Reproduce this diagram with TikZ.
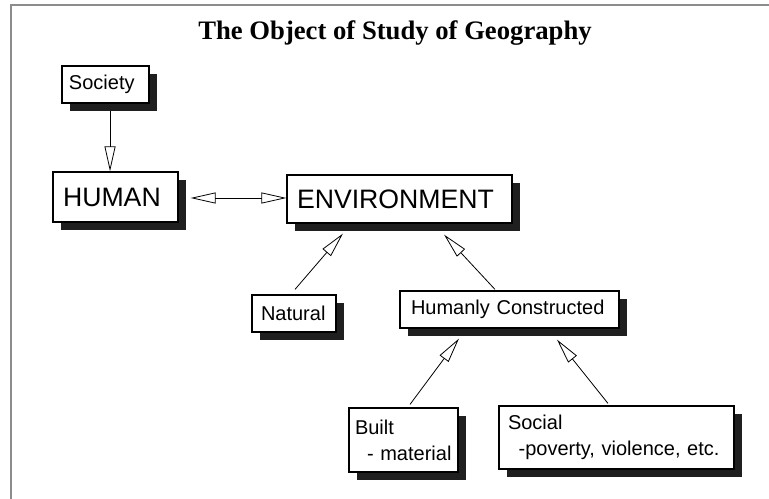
\documentclass[tikz,border=0pt]{standalone}
\usepackage{fontspec}
\setmainfont{Liberation Sans}
\newfontfamily\titlefont{Liberation Serif}
\usetikzlibrary{arrows.meta}
\usetikzlibrary{shadows}

\begin{document}
\begin{tikzpicture}[x=0.75pt, y=-0.75pt,
        box/.style={draw, fill=white, line width=0.9pt, align=left, inner ysep=0pt,
            drop shadow={shadow xshift=6pt, shadow yshift=-6pt, fill=shadowgray, opacity=1}},
        smallbox/.style={box, font=\fontsize{15}{19.5}\selectfont},
        bigbox/.style={box, font=\fontsize{20}{24}\selectfont, inner xsep=7.5pt},
        opentip/.style={line width=0.6pt, -{Triangle[open, length=18.75pt, width=8.25pt]}},
        bothtips/.style={line width=0.6pt, {Triangle[open, length=18.75pt, width=8.25pt]}-{Triangle[open, length=18.75pt, width=8.25pt]}}]
        \definecolor{shadowgray}{rgb}{0.12, 0.12, 0.12}
        \definecolor{framegray}{rgb}{0.55, 0.55, 0.55}

        \useasboundingbox (0,0) rectangle (769,499);
        \draw[framegray, line width=1.5pt] (11,499) -- (11,5) -- (769,5);

        \node[font=\titlefont\bfseries\fontsize{20}{24}\selectfont] (title) at (395,33) {The Object of Study of Geography};

        \node[smallbox, inner xsep=5.25pt, text width=54.75pt, minimum height=27.75pt] (society) at (105.5,84.5) {Society};
        \node[bigbox, text width=78.75pt, minimum height=37.5pt] (human) at (115.5,197) {HUMAN};
        \node[bigbox, text width=153.75pt, minimum height=36pt] (environment) at (399.5,199) {ENVIRONMENT};
        \node[smallbox, inner xsep=6.75pt, text width=49.5pt, minimum height=27.75pt] (natural) at (294,313.5) {Natural};
        \node[smallbox, inner xsep=8.25pt, text width=147.75pt, minimum height=27.75pt] (humanly) at (509.5,309.5) {Humanly Constructed};
        \node[smallbox, inner xsep=4.5pt, text width=72.75pt, minimum height=48pt] (built) at (403.5,440) {Built\\\hspace*{9pt}- material};
        \node[smallbox, inner xsep=6.75pt, text width=162.75pt, minimum height=47.25pt] (social) at (616.5,437.5) {Social\\\hspace*{8pt}-poverty, violence, etc.};

        \draw[opentip] ([xshift=3.4pt, yshift=-5.25pt]society.south) -- ([xshift=-4.1pt]human.north);
        \draw[bothtips] ([xshift=9pt, yshift=-0.75pt]human.east) -- ([yshift=0.75pt]environment.west);

        \draw[opentip] ([xshift=0.75pt, yshift=3.75pt]natural.north) -- ([xshift=-42.4pt, yshift=-7.5pt]environment.south);
        \draw[opentip] ([xshift=-10.9pt, yshift=0.75pt]humanly.north) -- ([xshift=33.4pt, yshift=-8.25pt]environment.south);
        \draw[opentip] ([xshift=4.9pt, yshift=2.25pt]built.north) -- ([xshift=-37.9pt, yshift=-7.5pt]humanly.south);
        \draw[opentip] ([xshift=-6.4pt, yshift=1.5pt]social.north) -- ([xshift=35.6pt, yshift=-8.25pt]humanly.south);
    \end{tikzpicture}
\end{document}
